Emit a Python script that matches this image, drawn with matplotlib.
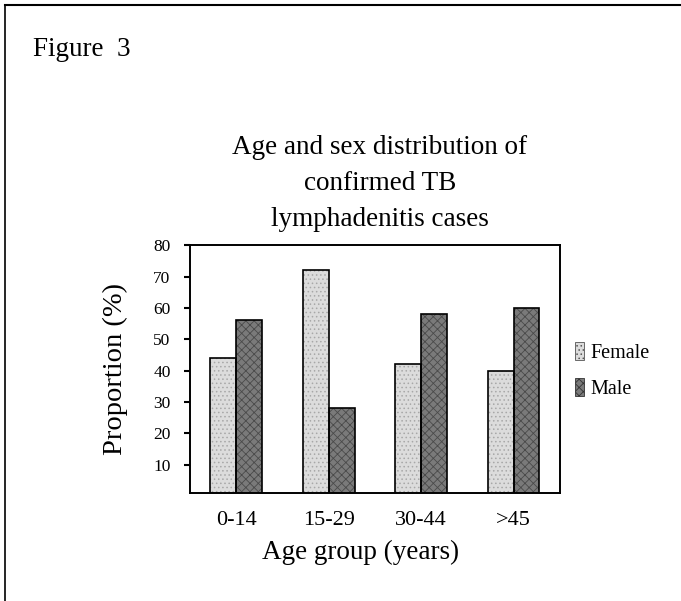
import numpy as np
import matplotlib.pyplot as plt
from matplotlib.lines import Line2D
from matplotlib.patches import Patch

plt.rcParams['font.family'] = ['Liberation Serif', 'DejaVu Serif']
plt.rcParams['hatch.linewidth'] = 0.6

groups = ["0-14", "15-29", "30-44", ">45"]
female = [44, 72, 42, 40]
male = [56, 28, 58, 60]
yticks = [10, 20, 30, 40, 50, 60, 70, 80]

fig = plt.figure(figsize=(6.81, 6.01), dpi=100)
ax = fig.add_axes([0.279, 0.18, 0.543, 0.412])

x = np.arange(len(groups))
w = 0.28
# textured fills, then black outlines on top
ax.bar(x - w / 2, female, w, color="#dcdcdc", hatch="....", edgecolor="#a8a8a8", linewidth=0)
ax.bar(x + w / 2, male, w, color="#7a7a7a", hatch="xxxx", edgecolor="#4a4a4a", linewidth=0)
ax.bar(x - w / 2, female, w, fill=False, edgecolor="black", linewidth=1.2)
ax.bar(x + w / 2, male, w, fill=False, edgecolor="black", linewidth=1.2)

ax.set_xlim(-0.5, 3.5)
ax.set_ylim(1, 80)
ax.set_yticks(yticks)
ax.set_yticklabels([str(v) for v in yticks], fontsize=12.5)
ax.tick_params(axis="y", direction="out", length=4, width=1.5, pad=10)
ax.set_xticks(x)
ax.set_xticklabels(groups, fontsize=16)
ax.tick_params(axis="x", length=0, pad=13)
for s in ax.spines.values():
    s.set_linewidth(1.4)

ax.set_ylabel("Proportion (%)", fontsize=20.5, labelpad=18)
ax.set_xlabel("Age group (years)", fontsize=19.5)
ax.xaxis.set_label_coords(0.462, -0.242)
ax.xaxis.label.set_va("center")

fig.text(0.558, 0.695, "Age and sex distribution of\nconfirmed TB\nlymphadenitis cases",
         ha="center", va="center", fontsize=19.5, linespacing=1.58)
fig.text(0.048, 0.917, "Figure  3", ha="left", va="center", fontsize=19.5)

handles = [Patch(facecolor="#dcdcdc", hatch="....", edgecolor="#555555", linewidth=0.6),
           Patch(facecolor="#7a7a7a", hatch="xxxx", edgecolor="#333333", linewidth=0.6)]
fig.legend(handles, ["Female", "Male"], loc="center left", bbox_to_anchor=(0.818, 0.384),
           frameon=False, fontsize=14.5, handlelength=0.45, handleheight=1.0,
           handletextpad=0.3, labelspacing=0.75)

# page border (top and left only, as in the scan)
fig.add_artist(Line2D([0.008, 0.008], [0.0, 0.992], color="black", linewidth=1.2))
fig.add_artist(Line2D([0.008, 1.0], [0.992, 0.992], color="black", linewidth=1.5))

fig.savefig("out.png", dpi=100, facecolor="white")
